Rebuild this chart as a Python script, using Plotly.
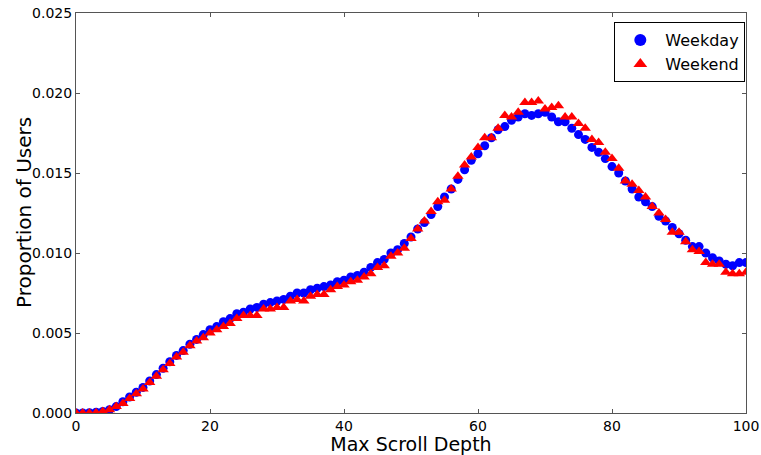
import plotly.graph_objects as go

depth = list(range(0, 101))

weekday = [
    0.0, 0.0, 0.00002, 0.00005, 0.0001, 0.0002, 0.0004, 0.0007, 0.001, 0.0013,
    0.0016, 0.002, 0.0024, 0.0028, 0.0032, 0.0036, 0.0039, 0.0043, 0.0046, 0.0049,
    0.0052, 0.0054, 0.0057, 0.0059, 0.0062, 0.0063, 0.0065, 0.0066, 0.0068, 0.0069,
    0.0070, 0.0071, 0.0073, 0.0075, 0.0075, 0.0077, 0.0078, 0.0079, 0.0080, 0.0082,
    0.0083, 0.0085, 0.0086, 0.0088, 0.0091, 0.0094, 0.0096, 0.0100, 0.0102, 0.0106,
    0.0110, 0.0115, 0.0119, 0.0124, 0.0129, 0.0135, 0.0140, 0.0146, 0.0152, 0.0158,
    0.0162, 0.0167, 0.0172, 0.0177, 0.0179, 0.0183, 0.0185, 0.0187, 0.0186, 0.0187,
    0.0188, 0.0185, 0.0182, 0.0182, 0.0178, 0.0174, 0.0171, 0.0166, 0.0163, 0.0159,
    0.0154, 0.0150, 0.0145, 0.0140, 0.0135, 0.0132, 0.0129, 0.0123, 0.0120, 0.0116,
    0.0112, 0.0108, 0.0104, 0.0104, 0.0100, 0.0097, 0.0095, 0.0093, 0.0092, 0.0094,
    0.0094,
]

weekend = [
    0.0, 0.0, 0.0, 0.00002, 0.0001, 0.0002, 0.0004, 0.0006, 0.0009, 0.0012,
    0.0015, 0.0019, 0.0023, 0.0027, 0.0031, 0.0035, 0.0038, 0.0042, 0.0045, 0.0047,
    0.0050, 0.0052, 0.0054, 0.0056, 0.0059, 0.0061, 0.0061, 0.0061, 0.0065, 0.0065,
    0.0066, 0.0066, 0.0070, 0.0071, 0.0070, 0.0073, 0.0074, 0.0074, 0.0077, 0.0079,
    0.0080, 0.0082, 0.0083, 0.0085, 0.0087, 0.0091, 0.0092, 0.0098, 0.0100, 0.0103,
    0.0109, 0.0115, 0.0120, 0.0126, 0.0132, 0.0133, 0.0140, 0.0148, 0.0155, 0.0160,
    0.0166, 0.0172, 0.0172, 0.0178, 0.0186, 0.0185, 0.0188, 0.0194, 0.0194, 0.0195,
    0.0190, 0.0191, 0.0192, 0.0185, 0.0185, 0.0181, 0.0178, 0.0171, 0.0169, 0.0163,
    0.0159, 0.0153, 0.0145, 0.0143, 0.0139, 0.0135, 0.0129, 0.0125, 0.0121, 0.0113,
    0.0113, 0.0107, 0.0102, 0.0101, 0.0094, 0.0093, 0.0093, 0.0088, 0.0087, 0.0087,
    0.0088,
]

x_ticks = [0, 20, 40, 60, 80, 100]
y_ticks = [0.0, 0.005, 0.010, 0.015, 0.020, 0.025]

fig = go.Figure()
fig.add_trace(go.Scatter(
    x=depth, y=weekday, mode="markers", name="Weekday",
    marker=dict(symbol="circle", size=9, color="#0000ff", line=dict(width=0)),
    cliponaxis=True,
))
fig.add_trace(go.Scatter(
    x=depth, y=weekend, mode="markers", name="Weekend",
    marker=dict(symbol="triangle-up", size=10, color="#ff0000", line=dict(width=0)),
    cliponaxis=True,
))

axis_common = dict(
    showgrid=False, zeroline=False, showline=True, linecolor="#555555", linewidth=1,
    mirror="allticks", ticks="inside", ticklen=4, tickcolor="#555555",
    tickfont=dict(family="DejaVu Sans", size=14, color="black"),
    automargin=False,
)

fig.update_layout(
    width=761, height=455,
    margin=dict(l=76, r=15, t=13, b=42),
    paper_bgcolor="white", plot_bgcolor="white",
    font=dict(family="DejaVu Sans", color="black"),
    xaxis=dict(range=[0, 100], tickvals=x_ticks,
               title=dict(text="Max Scroll Depth", font=dict(size=19), standoff=2),
               **axis_common),
    yaxis=dict(range=[0, 0.025], tickvals=y_ticks, tickformat=".3f",
               **axis_common),
    annotations=[dict(
        text="Proportion of Users", textangle=-90, showarrow=False,
        xref="paper", yref="paper", x=0, y=0.5, xanchor="center", yanchor="middle",
        xshift=-52, font=dict(size=20, family="DejaVu Sans", color="black"),
    )],
    showlegend=True,
    legend=dict(x=0.999, y=0.977, xanchor="right", yanchor="top",
                bordercolor="black", borderwidth=1, bgcolor="white",
                font=dict(size=16, family="DejaVu Sans"),
                itemwidth=40, tracegroupgap=0, itemsizing="constant"),
)

fig.write_html("out.html")
